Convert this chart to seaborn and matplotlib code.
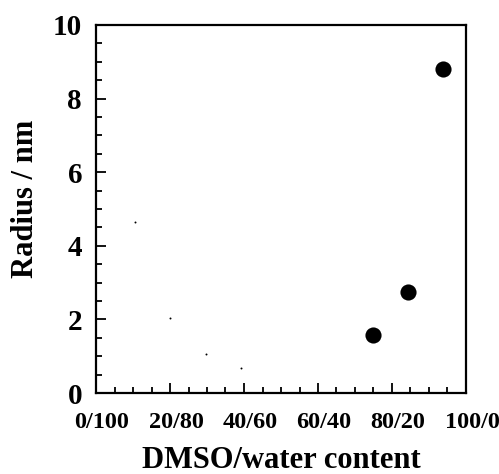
import matplotlib
matplotlib.use("Agg")
import matplotlib.pyplot as plt
import matplotlib.transforms as mtransforms
import seaborn as sns
import pandas as pd
from matplotlib.ticker import MultipleLocator

# Data
big_x = [75.0, 84.4, 93.9]
big_y = [1.58, 2.75, 8.80]
small_x = [10.6, 20.1, 29.6, 39.1]
small_y = [4.64, 2.05, 1.07, 0.68]
xtick_pos = [0, 20, 40, 60, 80, 100]
xtick_labels = ["0/100", "20/80", "40/60", "60/40", "80/20", "100/0"]
ytick_pos = [0, 2, 4, 6, 8, 10]

sns.set_theme(style="ticks")
plt.rcParams['font.family'] = ['Liberation Serif', 'DejaVu Serif']
plt.rcParams['font.weight'] = 'bold'
plt.rcParams['text.color'] = 'black'
plt.rcParams['axes.labelcolor'] = 'black'
plt.rcParams['xtick.color'] = 'black'
plt.rcParams['ytick.color'] = 'black'

fig = plt.figure(figsize=(4.99, 4.74), dpi=100)
ax = fig.add_axes([96/499, 1 - 393/474, (466 - 96)/499, (393 - 25)/474])

df_big = pd.DataFrame({"x": big_x, "y": big_y})
df_small = pd.DataFrame({"x": small_x, "y": small_y})
sns.scatterplot(data=df_big, x="x", y="y", ax=ax, color="black", s=135,
                edgecolor="black", linewidth=0, zorder=3)
sns.scatterplot(data=df_small, x="x", y="y", ax=ax, color="black", s=2,
                edgecolor="black", linewidth=0, zorder=3)

ax.set_xlim(0, 100)
ax.set_ylim(0, 10)
ax.set_xticks(xtick_pos)
ax.set_xticklabels(xtick_labels)
ax.set_yticks(ytick_pos)
ax.xaxis.set_minor_locator(MultipleLocator(5))
ax.yaxis.set_minor_locator(MultipleLocator(0.5))
ax.tick_params(which="major", direction="in", length=7.5, width=1.3,
               top=False, right=False, color="black")
ax.tick_params(which="minor", direction="in", length=4, width=1.3,
               top=False, right=False, color="black")
ax.tick_params(axis="x", labelsize=17.5, pad=14, labelcolor="black")
ax.tick_params(axis="y", labelsize=21, pad=10, labelcolor="black")
offset = mtransforms.ScaledTranslation(6/100, 0, fig.dpi_scale_trans)
for lab in ax.get_xticklabels():
    lab.set_fontweight("bold")
    lab.set_transform(lab.get_transform() + offset)
for lab in ax.get_yticklabels():
    lab.set_fontweight("bold")
for sp in ax.spines.values():
    sp.set_linewidth(1.6)
    sp.set_color("black")
    sp.set_visible(True)

ax.set_xlabel("DMSO/water content", fontsize=22, fontweight="bold")
ax.set_ylabel("Radius / nm", fontsize=22, fontweight="bold")
ax.xaxis.set_label_coords(0.5, -53/368, transform=ax.transAxes)
ax.yaxis.set_label_coords(-56/370, 0.5 + 10/368, transform=ax.transAxes)

fig.savefig("out.png", dpi=100, facecolor="white")
